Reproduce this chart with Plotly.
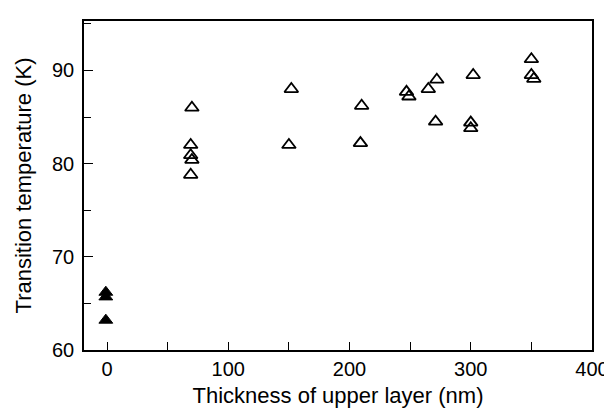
import plotly.graph_objects as go

# Open triangles: samples with an upper layer
thickness_nm = [70, 69, 69, 70, 69,
                152, 150,
                210, 209,
                247, 249, 265, 272, 271,
                300, 300, 302,
                350, 350, 352]
tc_K = [86.0, 82.0, 80.9, 80.4, 78.8,
        88.0, 82.0,
        86.2, 82.2,
        87.7, 87.2, 88.0, 89.0, 84.5,
        84.4, 83.8, 89.5,
        91.2, 89.5, 89.1]

# Filled triangles: no upper layer
thickness0_nm = [-1, -1, -1]
tc0_K = [66.2, 65.7, 63.2]

x_tickvals = [0, 100, 200, 300, 400]
y_tickvals = [60, 70, 80, 90]

FONT = "Liberation Sans, Arial, Helvetica, sans-serif"

fig = go.Figure()
fig.add_trace(go.Scatter(
    x=thickness_nm, y=tc_K, mode="markers",
    marker=dict(symbol="triangle-up-open", size=12, color="black",
                line=dict(width=1.8, color="black")),
    showlegend=False))
fig.add_trace(go.Scatter(
    x=thickness0_nm, y=tc0_K, mode="markers",
    marker=dict(symbol="triangle-up", size=12, color="black",
                line=dict(width=1, color="black")),
    showlegend=False))

fig.update_layout(
    width=612, height=409,
    margin=dict(l=76, r=15, t=11, b=67),
    paper_bgcolor="white", plot_bgcolor="white",
    font=dict(family=FONT, color="black", size=20),
    xaxis=dict(
        range=[-19, 400], tickvals=x_tickvals,
        ticks="inside", ticklen=8, tickwidth=1.3, tickcolor="black",
        minor=dict(dtick=50, tick0=0, ticks="inside", ticklen=8, tickwidth=1.3, tickcolor="black"),
        showline=True, linecolor="black", linewidth=1.5, mirror=True,
        showgrid=False, zeroline=False,
        tickfont=dict(size=20), ticklabeloverflow="allow",
        title=dict(text="Thickness of upper layer (nm)", font=dict(size=22), standoff=9),
    ),
    yaxis=dict(
        range=[60, 95.3], tickvals=y_tickvals,
        ticks="inside", ticklen=9, tickwidth=1.3, tickcolor="black",
        minor=dict(dtick=5, tick0=60, ticks="inside", ticklen=7, tickwidth=1.3, tickcolor="black"),
        showline=True, linecolor="black", linewidth=1.5, mirror=True,
        showgrid=False, zeroline=False,
        tickfont=dict(size=20), ticklabelstandoff=4, ticklabeloverflow="allow",
        title=dict(text="Transition temperature (K)", font=dict(size=22), standoff=14),
    ),
)

fig.write_html("out.html")
